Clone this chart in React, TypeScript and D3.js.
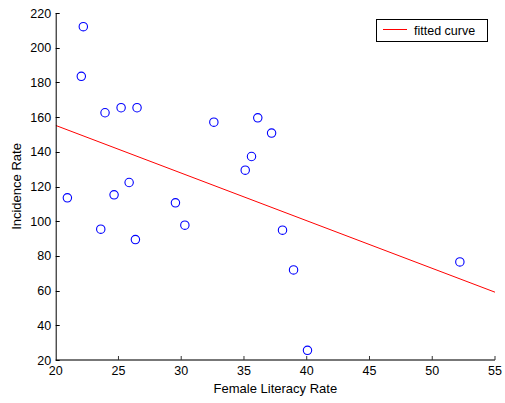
import React from "react";
import * as d3 from "d3";

// Female literacy rate (%) vs. incidence rate
const literacy = [
  20.93, 22.2, 22.04, 23.93, 23.59, 24.65, 25.21, 26.48, 25.85, 26.35, 29.54,
  30.29, 32.6, 35.1, 35.6, 36.1, 37.2, 38.07, 38.95, 40.06, 52.2,
];
const incidence = [
  113.5, 212.1, 183.5, 162.5, 95.4, 115.2, 165.4, 165.4, 122.3, 89.4, 110.6,
  97.7, 157.1, 129.4, 137.3, 159.6, 150.8, 94.8, 71.9, 25.6, 76.5,
];
const xTicks = [20, 25, 30, 35, 40, 45, 50, 55];
const yTicks = [20, 40, 60, 80, 100, 120, 140, 160, 180, 200, 220];

const W = 505;
const H = 403;
const FONT = "'Liberation Sans', Arial, sans-serif";

// ordinary least-squares line through the points
function leastSquares(xs: number[], ys: number[]) {
  const mx = d3.mean(xs) as number;
  const my = d3.mean(ys) as number;
  let sxy = 0;
  let sxx = 0;
  xs.forEach((x, i) => {
    sxy += (x - mx) * (ys[i] - my);
    sxx += (x - mx) * (x - mx);
  });
  const slope = sxy / sxx;
  return { slope, intercept: my - slope * mx };
}

export default function App() {
  const x = d3.scaleLinear().domain([20, 55]).range([55.7, 495]);
  const y = d3.scaleLinear().domain([20, 220]).range([360, 13]);
  const fit = leastSquares(literacy, incidence);
  const [x0, x1] = x.domain();
  const fitLine = d3
    .line<number>()
    .x((v) => x(v))
    .y((v) => y(fit.intercept + fit.slope * v));

  return (
    <svg
      width={W}
      height={H}
      style={{ position: "absolute", left: 0, top: 0, background: "#fff" }}
      fontFamily={FONT}
    >
      <rect width={W} height={H} fill="#fff" />

      {/* fitted line, clipped to the axes area */}
      <defs>
        <clipPath id="plotArea">
          <rect x={x(20)} y={y(220)} width={x(55) - x(20)} height={y(20) - y(220)} />
        </clipPath>
      </defs>
      <path
        d={fitLine([x0, x1]) || ""}
        fill="none"
        stroke="#ff0000"
        strokeWidth={1}
        clipPath="url(#plotArea)"
      />

      {/* observations */}
      {literacy.map((lx, i) => (
        <circle
          key={i}
          cx={x(lx)}
          cy={y(incidence[i])}
          r={4.2}
          fill="none"
          stroke="#0000ff"
          strokeWidth={1.1}
        />
      ))}

      {/* bottom axis */}
      <line x1={x(20)} x2={x(55)} y1={y(20)} y2={y(20)} stroke="#777" strokeWidth={2} />
      {xTicks.map((t) => (
        <g key={t}>
          {t > 20 && (
            <line
              x1={x(t)}
              x2={x(t)}
              y1={y(20)}
              y2={y(20) - 4}
              stroke="#333"
              strokeWidth={1}
            />
          )}
          <text
            x={x(t)}
            y={y(20) + 15}
            textAnchor="middle"
            fontSize={12.5}
            fill="#000"
          >
            {t}
          </text>
        </g>
      ))}

      {/* left axis */}
      <line
        x1={x(20) + 0.5}
        x2={x(20) + 0.5}
        y1={y(220)}
        y2={y(20)}
        stroke="#000"
        strokeWidth={1}
      />
      {yTicks.map((t) => (
        <g key={t}>
          <line
            x1={x(20)}
            x2={x(20) + 4}
            y1={Math.round(y(t)) + 0.5}
            y2={Math.round(y(t)) + 0.5}
            stroke="#000"
            strokeWidth={1}
          />
          <text
            x={x(20) - 4.5}
            y={y(t) + 4.5}
            textAnchor="end"
            fontSize={12.5}
            fill="#000"
          >
            {t}
          </text>
        </g>
      ))}

      {/* axis titles */}
      <text
        x={(x(20) + x(55)) / 2}
        y={393}
        textAnchor="middle"
        fontSize={13}
        fill="#000"
      >
        Female Literacy Rate
      </text>
      <text
        transform={`translate(20.5, ${(y(20) + y(220)) / 2}) rotate(-90)`}
        textAnchor="middle"
        fontSize={13}
        fill="#000"
      >
        Incidence Rate
      </text>

      {/* legend */}
      <rect x={376.5} y={19.5} width={111} height={22} fill="#fff" stroke="#000" strokeWidth={1} />
      <line x1={383} x2={407} y1={29.5} y2={29.5} stroke="#ff0000" strokeWidth={1} />
      <text x={414} y={34.5} fontSize={12.5} fill="#000">
        fitted curve
      </text>
    </svg>
  );
}
